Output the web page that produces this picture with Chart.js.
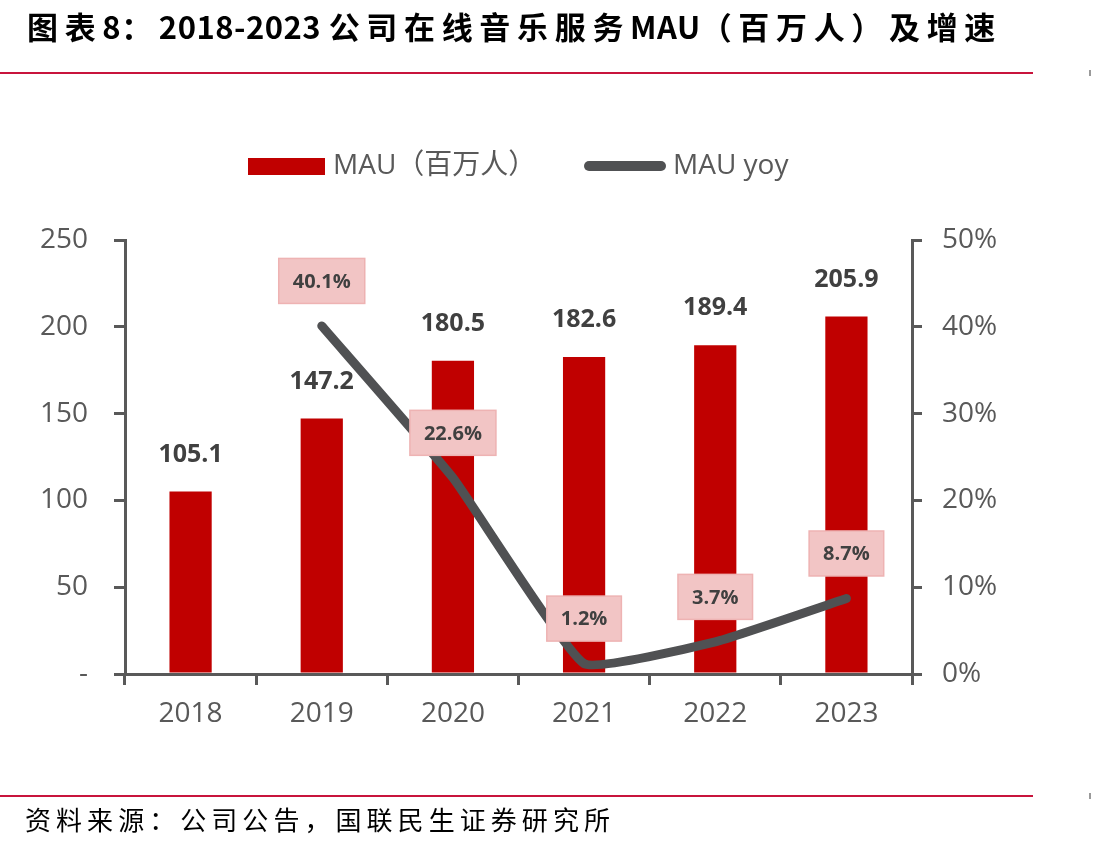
<!DOCTYPE html>
<html>
<head>
<meta charset="utf-8">
<script src="https://cdn.jsdelivr.net/npm/chart.js@4.4.1/dist/chart.umd.min.js"></script>
<style>
  html, body { margin: 0; padding: 0; background: #ffffff; }
  #wrap { position: relative; width: 1093px; height: 849px; overflow: hidden; background: #fff; }
  #c { position: absolute; left: 0; top: 0; }
  .txt { position: absolute; white-space: nowrap; color: #000; z-index: 2; }
  #title { left: 27px; top: 10px; font-family: "Noto Sans CJK SC", sans-serif; font-weight: 700; font-size: 31px; line-height: 31px; }
  #title .lat { letter-spacing: 0.5px; }
  #source { left: 25px; top: 806px; font-family: "Noto Sans CJK SC", sans-serif; font-weight: 400; font-size: 26px; line-height: 26px; }
  .rule { position: absolute; left: 0; width: 1033px; height: 2px; background: #c8143c; z-index: 2; }
  .mark { position: absolute; left: 1089px; width: 2px; height: 6px; background: #9a9a9a; z-index: 2; }
</style>
</head>
<body>
<div id="wrap">
  <canvas id="c" width="1093" height="849"></canvas>
  <div id="title" class="txt"><span class="cjk">图表</span><span class="lat">8</span><span class="cjk">：</span><span class="lat">2018-2023 </span><span class="cjk">公司在线音乐服务</span><span class="lat">MAU</span><span class="cjk">（百万人）及增速</span></div>
  <div class="rule" style="top:72px"></div>
  <div class="mark" style="top:70px"></div>
  <div class="rule" style="top:795px"></div>
  <div class="mark" style="top:793px"></div>
  <div id="source" class="txt">资料来源：公司公告，国联民生证券研究所</div>
</div>
<script>
// ---- data ----
const years = ['2018', '2019', '2020', '2021', '2022', '2023'];
const mau = [105.1, 147.2, 180.5, 182.6, 189.4, 205.9];
const mauYoy = [null, 40.1, 22.6, 1.2, 3.7, 8.7];
const seriesNames = ['MAU（百万人）', 'MAU yoy'];
const leftTicks = [0, 50, 100, 150, 200, 250];
const rightTicks = [0, 10, 20, 30, 40, 50];

// ---- fit header/footer text widths ----
(function () {
  const t = document.getElementById('title');
  const w = t.getBoundingClientRect().width;
  const cjk = t.querySelectorAll('.cjk');
  let n = 0;
  cjk.forEach(s => { n += s.textContent.length; });
  const sp = (975 - w) / n;
  cjk.forEach(s => { s.style.letterSpacing = sp + 'px'; });
  const f = document.getElementById('source');
  const fw = f.getBoundingClientRect().width;
  f.style.letterSpacing = ((590 - fw) / f.textContent.length) + 'px';
})();

const FONT = "'Open Sans', 'Noto Sans CJK SC', sans-serif";
const AXIS = '#595959';
const RED = '#C00000';
const LINE = '#505153';

const labelsPlugin = {
  id: 'labelsPlugin',
  afterDatasetsDraw(chart) {
    const ctx = chart.ctx;
    ctx.save();
    const bm = chart.getDatasetMeta(0);
    ctx.font = 'bold 25px ' + FONT;
    ctx.fillStyle = '#404040';
    ctx.textAlign = 'center';
    ctx.textBaseline = 'middle';
    bm.data.forEach((el, i) => {
      ctx.fillText(mau[i].toFixed(1), el.x, el.y - 37);
    });
    const lm = chart.getDatasetMeta(1);
    ctx.font = 'bold 20px ' + FONT;
    lm.data.forEach((el, i) => {
      if (mauYoy[i] === null) return;
      const t = mauYoy[i].toFixed(1) + '%';
      const w = ctx.measureText(t).width + 28;
      const h = 45;
      const cx = el.x, cy = el.y - 45;
      ctx.fillStyle = '#f2c5c5';
      ctx.fillRect(cx - w / 2, cy - h / 2, w, h);
      ctx.strokeStyle = '#eeb3b3';
      ctx.lineWidth = 1.5;
      ctx.strokeRect(cx - w / 2, cy - h / 2, w, h);
      ctx.fillStyle = '#404040';
      ctx.fillText(t, cx, cy + 1);
    });
    ctx.restore();
  },
  afterDraw(chart) {
    const ctx = chart.ctx;
    ctx.save();
    const ds = chart.data.datasets;
    const y = 166;
    ctx.fillStyle = ds[0].backgroundColor;
    ctx.fillRect(248, 158, 77, 17);
    ctx.font = '28px ' + FONT;
    ctx.fillStyle = AXIS;
    ctx.textAlign = 'left';
    ctx.textBaseline = 'middle';
    ctx.fillText(ds[0].label, 333, y);
    ctx.strokeStyle = ds[1].borderColor;
    ctx.lineWidth = 10;
    ctx.lineCap = 'round';
    ctx.beginPath();
    ctx.moveTo(589, y);
    ctx.lineTo(661, y);
    ctx.stroke();
    ctx.fillText(ds[1].label, 673, y);
    ctx.restore();
  }
};

new Chart(document.getElementById('c'), {
  type: 'bar',
  data: {
    labels: years,
    datasets: [
      {
        type: 'bar',
        label: seriesNames[0],
        data: mau,
        backgroundColor: RED,
        yAxisID: 'y',
        categoryPercentage: 1,
        barPercentage: 0.322,
        order: 1
      },
      {
        type: 'line',
        label: seriesNames[1],
        data: mauYoy,
        borderColor: LINE,
        backgroundColor: LINE,
        borderWidth: 9,
        borderCapStyle: 'round',
        borderJoinStyle: 'round',
        pointRadius: 0,
        tension: 0.12,
        yAxisID: 'y1',
        order: 0
      }
    ]
  },
  options: {
    responsive: false,
    animation: false,
    events: [],
    layout: { padding: { top: 240, left: 0, right: 0, bottom: 0 } },
    plugins: { legend: { display: false }, tooltip: { enabled: false } },
    scales: {
      x: {
        grid: { display: true, drawOnChartArea: false, offset: true, tickLength: 11, color: AXIS, lineWidth: 3 },
        border: { color: AXIS, width: 3 },
        ticks: { font: { size: 28, family: FONT }, color: AXIS, padding: 12 },
        afterFit: s => { s.height = 175; }
      },
      y: {
        position: 'left',
        min: 0, max: 250,
        afterBuildTicks: s => { s.ticks = leftTicks.map(v => ({ value: v })); },
        ticks: {
          font: { size: 28, family: FONT }, color: AXIS, padding: 26,
          callback: v => v === 0 ? '-' : String(v)
        },
        grid: { display: true, drawOnChartArea: false, tickLength: 11, color: AXIS, lineWidth: 3 },
        border: { color: AXIS, width: 3 },
        afterFit: s => { s.width = 125; }
      },
      y1: {
        position: 'right',
        min: 0, max: 50,
        afterBuildTicks: s => { s.ticks = rightTicks.map(v => ({ value: v })); },
        ticks: {
          font: { size: 28, family: FONT }, color: AXIS, padding: 20,
          callback: v => v + '%'
        },
        grid: { display: true, drawOnChartArea: false, tickLength: 10, color: AXIS, lineWidth: 3 },
        border: { color: AXIS, width: 3 },
        afterFit: s => { s.width = 181; }
      }
    }
  },
  plugins: [labelsPlugin]
});
</script>
</body>
</html>
